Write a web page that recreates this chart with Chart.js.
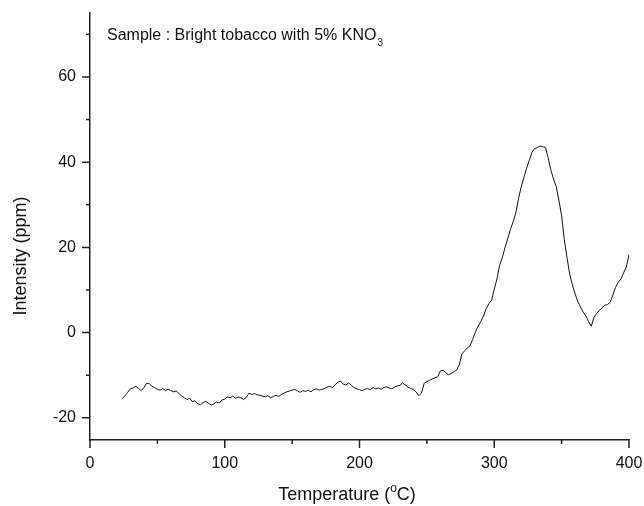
<!DOCTYPE html>
<html>
<head>
    <title>KNO3 tobacco evolution profile</title>
    <script src="https://cdn.jsdelivr.net/npm/chart.js"></script>
    <style>
        body {
            margin: 0;
            background-color: white;
        }
        #wrap {
            width: 644px;
            height: 506px;
        }
    </style>
</head>
<body>
    <div id="wrap"><canvas id="profileChart"></canvas></div>

    <script>
        // temperature (degC) and measured intensity (ppm)
        const temperatures = [
            24, 26, 28, 30, 32, 34, 36, 38, 40, 42,
            44, 46, 48, 50, 52, 54, 56, 58, 60, 62,
            64, 66, 68, 70, 72, 74, 76, 78, 80, 82,
            84, 86, 88, 90, 92, 94, 96, 98, 100, 102,
            104, 106, 108, 110, 112, 114, 116, 118, 120, 122,
            124, 126, 128, 130, 132, 134, 136, 138, 140, 142,
            144, 146, 148, 150, 152, 154, 156, 158, 160, 162,
            164, 166, 168, 170, 172, 174, 176, 178, 180, 182,
            184, 186, 188, 190, 192, 194, 196, 198, 200, 202,
            204, 206, 208, 210, 212, 214, 216, 218, 220, 222,
            224, 226, 228, 230, 232, 234, 236, 238, 240, 242,
            244, 246, 248, 250, 252, 254, 256, 258, 260, 262,
            264, 266, 268, 270, 272, 274, 276, 278, 280, 282,
            284, 286, 288, 290, 292, 294, 296, 298, 300, 302,
            304, 306, 308, 310, 312, 314, 316, 318, 320, 322,
            324, 326, 328, 330, 332, 334, 336, 338, 340, 342,
            344, 346, 348, 350, 352, 354, 356, 358, 360, 362,
            364, 366, 368, 370, 372, 374, 376, 378, 380, 382,
            384, 386, 388, 390, 392, 394, 396, 398, 400
        ];
        const intensity = [
            -15.5, -14.8, -14.0, -13.2, -13.0, -12.6, -13.1, -13.6, -12.9, -11.9,
            -12.0, -12.6, -12.9, -13.3, -13.5, -13.1, -13.6, -13.3, -13.6, -13.9,
            -13.7, -14.3, -14.9, -15.3, -15.7, -15.4, -16.2, -16.0, -16.7, -16.9,
            -16.4, -16.1, -16.6, -17.0, -16.7, -16.3, -16.5, -15.8, -15.6, -15.1,
            -15.3, -14.9, -15.4, -15.1, -15.3, -15.7, -15.2, -14.2, -14.5, -14.3,
            -14.6, -14.7, -14.9, -15.1, -14.8, -15.3, -15.0, -14.7, -15.0, -14.5,
            -14.2, -13.9, -13.7, -13.5, -13.3, -13.7, -14.0, -13.6, -13.8, -13.5,
            -13.9, -13.4, -13.2, -13.5, -13.3, -13.1, -12.8, -12.6, -12.9, -12.2,
            -11.6, -11.4, -12.1, -12.3, -11.8, -12.4, -12.9, -13.2, -13.4, -13.6,
            -13.3, -13.1, -13.4, -12.9, -13.2, -13.0, -13.3, -12.9, -12.7, -13.0,
            -13.2, -12.8, -12.5, -12.4, -11.8, -12.3, -12.8, -13.1, -13.4, -13.9,
            -14.8, -14.2, -11.9, -11.5, -11.2, -10.9, -10.6, -10.4, -9.0, -8.8,
            -9.4, -9.9, -9.6, -9.2, -8.8, -7.6, -5.0, -4.3, -3.6, -3.1,
            -1.6, 0.1, 1.5, 2.6, 3.9, 5.6, 6.8, 7.6, 10.2, 12.6,
            15.8, 17.6, 20.0, 22.0, 24.2, 26.0, 28.1, 31.4, 34.2, 36.4,
            38.6, 40.4, 42.3, 43.2, 43.4, 43.8, 43.6, 43.5, 41.0, 38.2,
            36.0, 34.3, 31.0, 27.4, 21.8, 17.6, 13.7, 11.2, 9.1, 7.3,
            6.0, 4.8, 3.9, 2.6, 1.5, 3.6, 4.5, 5.2, 5.8, 6.4,
            6.6, 7.1, 8.8, 10.6, 11.8, 12.6, 14.0, 15.4, 18.3
        ];

        const xMajorTicks = [0, 100, 200, 300, 400];
        const xMinorTicks = [50, 150, 250, 350];
        const yMajorTicks = [-20, 0, 20, 40, 60];
        const yMinorTicks = [-10, 10, 30, 50, 70];

        const FONT = '"Liberation Sans", Arial, sans-serif';
        const INK = '#222';

        // outward tick marks plus axis titles and the sample caption
        const decorations = {
            id: 'decorations',
            afterDraw(chart) {
                const ctx = chart.ctx;
                const xs = chart.scales.x;
                const ys = chart.scales.y;
                const area = chart.chartArea;
                ctx.save();
                ctx.strokeStyle = INK;
                ctx.lineWidth = 1.5;
                ctx.beginPath();
                xMajorTicks.forEach(v => {
                    const px = xs.getPixelForValue(v);
                    ctx.moveTo(px, area.bottom); ctx.lineTo(px, area.bottom + 8);
                });
                xMinorTicks.forEach(v => {
                    const px = xs.getPixelForValue(v);
                    ctx.moveTo(px, area.bottom); ctx.lineTo(px, area.bottom + 4);
                });
                yMajorTicks.forEach(v => {
                    const py = ys.getPixelForValue(v);
                    ctx.moveTo(area.left, py); ctx.lineTo(area.left - 8, py);
                });
                yMinorTicks.forEach(v => {
                    const py = ys.getPixelForValue(v);
                    ctx.moveTo(area.left, py); ctx.lineTo(area.left - 4, py);
                });
                ctx.stroke();

                ctx.fillStyle = '#111';
                ctx.textBaseline = 'alphabetic';

                // x title with raised degree "o"
                ctx.font = '12px ' + FONT;
                const wo = ctx.measureText('o').width;
                ctx.font = '18px ' + FONT;
                const t1 = 'Temperature (', t2 = 'C)';
                const w1 = ctx.measureText(t1).width;
                const w2 = ctx.measureText(t2).width;
                const x0 = 347 - (w1 + wo + w2) / 2;
                const yb = 500;
                ctx.textAlign = 'left';
                ctx.fillText(t1, x0, yb);
                ctx.font = '12px ' + FONT;
                ctx.fillText('o', x0 + w1, yb - 8);
                ctx.font = '18px ' + FONT;
                ctx.fillText(t2, x0 + w1 + wo, yb);

                // y title
                ctx.save();
                ctx.translate(26, 256);
                ctx.rotate(-Math.PI / 2);
                ctx.textAlign = 'center';
                ctx.font = '18px ' + FONT;
                ctx.fillText('Intensity (ppm)', 0, 0);
                ctx.restore();

                // caption with subscript 3
                ctx.textAlign = 'left';
                ctx.font = '16px ' + FONT;
                const cap = 'Sample : Bright tobacco with 5% KNO';
                ctx.fillText(cap, 107, 40);
                const wc = ctx.measureText(cap).width;
                ctx.font = '10px ' + FONT;
                ctx.fillText('3', 107 + wc + 1, 46);
                ctx.restore();
            }
        };

        new Chart(document.getElementById('profileChart'), {
            type: 'line',
            data: {
                labels: temperatures,
                datasets: [{
                    data: temperatures.map((t, i) => ({ x: t, y: intensity[i] })),
                    borderColor: '#111',
                    borderWidth: 1,
                    pointRadius: 0,
                    tension: 0,
                    fill: false
                }]
            },
            options: {
                responsive: true,
                maintainAspectRatio: false,
                animation: false,
                layout: {
                    padding: { top: 13, right: 15, left: 0, bottom: 0 }
                },
                plugins: {
                    legend: { display: false },
                    tooltip: { enabled: false }
                },
                scales: {
                    x: {
                        type: 'linear',
                        min: 0,
                        max: 400,
                        grid: { display: false },
                        border: { color: INK, width: 1.5 },
                        ticks: {
                            color: '#111',
                            padding: 6,
                            maxRotation: 0,
                            font: { family: FONT, size: 16 }
                        },
                        afterBuildTicks(scale) {
                            scale.ticks = xMajorTicks.map(v => ({ value: v }));
                        },
                        afterFit(scale) {
                            scale.height = 66;
                            scale.paddingLeft = 0;
                            scale.paddingRight = 0;
                        }
                    },
                    y: {
                        min: -25.2,
                        max: 75,
                        grid: { display: false },
                        border: { color: INK, width: 1.5 },
                        ticks: {
                            color: '#111',
                            padding: 6,
                            font: { family: FONT, size: 16 }
                        },
                        afterBuildTicks(scale) {
                            scale.ticks = yMajorTicks.map(v => ({ value: v }));
                        },
                        afterFit(scale) {
                            scale.width = 90;
                            scale.paddingTop = 0;
                            scale.paddingBottom = 0;
                        }
                    }
                }
            },
            plugins: [decorations]
        });
    </script>
</body>
</html>
